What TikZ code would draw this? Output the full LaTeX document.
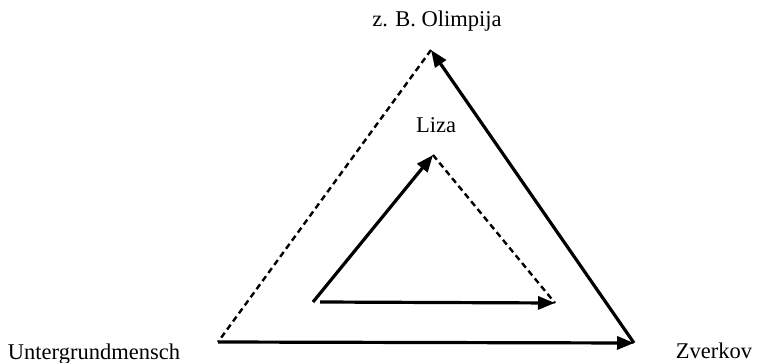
\documentclass[tikz,border=0pt]{standalone}
\usepackage{fontspec}
\setmainfont{Liberation Serif}
\usetikzlibrary{arrows.meta}
\begin{document}
\begin{tikzpicture}[x=1pt,y=-1pt,
  lbl/.style={anchor=base,inner sep=0pt,font=\fontsize{22.5}{25}\selectfont},
  solidarrow/.style={line width=3.2pt,-{Triangle[length=17pt,width=13pt]}},
  dashline/.style={line width=2.4pt,dash pattern=on 6pt off 4pt}]
\useasboundingbox (0,0) rectangle (759,363);
% outer vertices
\coordinate (OL) at (218,342);
\coordinate (OR) at (634,343);
\coordinate (OT) at (431,50);
% inner vertices
\coordinate (IL) at (313,302);
\coordinate (ILb) at (320,302);
\coordinate (IR) at (555,303);
\coordinate (IT) at (433,155);
% labels
\node[lbl] (olimp) at (437,27) {z. B. Olimpija};
\node[lbl] (liza) at (436,133) {Liza};
\node[lbl] (unter) at (94,359) {Untergrundmensch};
\node[lbl] (zver) at (714,358) {Zverkov};
% outer triangle
\draw[dashline] (OT) -- (OL);
\draw[solidarrow] (OL) -- (OR);
\draw[solidarrow] (OR) -- (OT);
% inner triangle
\draw[solidarrow] (IL) -- (IT);
\draw[solidarrow] (ILb) -- (IR);
\draw[dashline] (IT) -- (IR);
\end{tikzpicture}
\end{document}
